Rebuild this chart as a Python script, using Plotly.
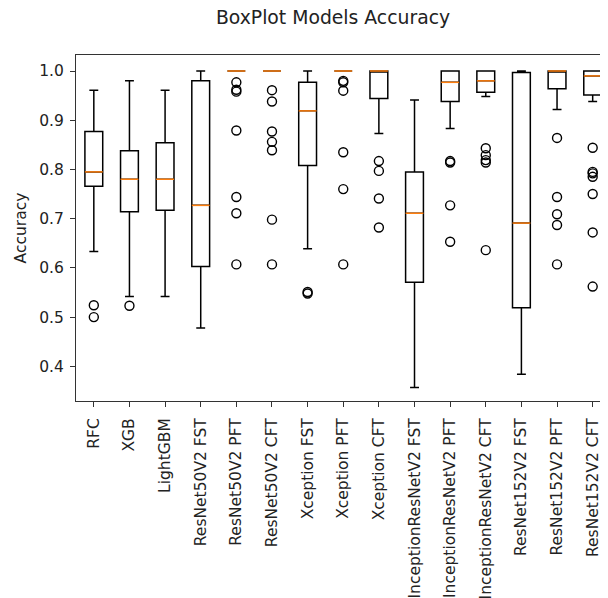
import plotly.graph_objects as go

models = ["RFC", "XGB", "LightGBM", "ResNet50V2 FST", "ResNet50V2 PFT", "ResNet50V2 CFT",
          "Xception FST", "Xception PFT", "Xception CFT",
          "InceptionResNetV2 FST", "InceptionResNetV2 PFT", "InceptionResNetV2 CFT",
          "ResNet152V2 FST", "ResNet152V2 PFT", "ResNet152V2 CFT"]

lower_whisker = [0.633, 0.542, 0.542, 0.478, 1.0, 1.0, 0.639, 1.0, 0.873, 0.357, 0.883, 0.948, 0.384, 0.922, 0.938]
q1_vals       = [0.766, 0.714, 0.717, 0.603, 1.0, 1.0, 0.808, 1.0, 0.944, 0.571, 0.938, 0.957, 0.519, 0.964, 0.951]
median_vals   = [0.795, 0.780, 0.780, 0.727, 1.0, 1.0, 0.919, 1.0, 1.0, 0.711, 0.977, 0.980, 0.691, 1.0, 0.990]
q3_vals       = [0.877, 0.838, 0.854, 0.980, 1.0, 1.0, 0.977, 1.0, 1.0, 0.795, 1.0, 1.0, 0.997, 1.0, 1.0]
upper_whisker = [0.961, 0.980, 0.961, 1.0, 1.0, 1.0, 1.0, 1.0, 1.0, 0.941, 1.0, 1.0, 1.0, 1.0, 1.0]

outliers = [
    [0.524, 0.500],
    [0.523],
    [],
    [],
    [0.977, 0.962, 0.958, 0.879, 0.744, 0.711, 0.607],
    [0.961, 0.938, 0.877, 0.856, 0.839, 0.698, 0.607],
    [0.551, 0.548],
    [0.980, 0.977, 0.960, 0.835, 0.760, 0.607],
    [0.817, 0.797, 0.741, 0.682],
    [],
    [0.817, 0.814, 0.727, 0.653],
    [0.843, 0.829, 0.819, 0.814, 0.636],
    [],
    [0.864, 0.744, 0.709, 0.687, 0.607],
    [0.844, 0.795, 0.792, 0.785, 0.750, 0.672, 0.562],
]

y_ticks = [0.4, 0.5, 0.6, 0.7, 0.8, 0.9, 1.0]

positions = list(range(1, len(models) + 1))
BOX_W = 0.5

fig = go.Figure()

fig.add_trace(go.Box(
    x=positions, q1=q1_vals, median=median_vals, q3=q3_vals,
    lowerfence=lower_whisker, upperfence=upper_whisker,
    width=BOX_W, whiskerwidth=0.5, boxpoints=False,
    line=dict(color="black", width=1.5), fillcolor="rgba(0,0,0,0)",
    showlegend=False, hoverinfo="skip",
))

mx, my = [], []
for p, m in zip(positions, median_vals):
    mx += [p - BOX_W / 2, p + BOX_W / 2, None]
    my += [m, m, None]
fig.add_trace(go.Scatter(x=mx, y=my, mode="lines", line=dict(color="#ff7f0e", width=1.5),
                         showlegend=False, hoverinfo="skip"))

ox, oy = [], []
for p, outs in zip(positions, outliers):
    ox += [p] * len(outs)
    oy += outs
fig.add_trace(go.Scatter(x=ox, y=oy, mode="markers",
                         marker=dict(symbol="circle-open", size=9, color="black", line=dict(width=1.4)),
                         showlegend=False, hoverinfo="skip"))

font = "DejaVu Sans"
# page body has an 8px default margin, so the figure is sized/offset to fit the 608x598 window
fig.update_layout(
    template="none",
    width=600, height=590,
    margin=dict(l=68, r=0, t=47, b=197, pad=0),
    paper_bgcolor="white", plot_bgcolor="white",
    font=dict(family=font, size=15.5, color="#222222"),
    title=dict(text="BoxPlot Models Accuracy", x=325 / 600, xanchor="center",
               y=1 - 9 / 590, yanchor="middle", yref="container", automargin=False,
               font=dict(family=font, size=18.8, color="#222222")),
)
fig.update_xaxes(
    range=[0.5, 15.43], tickmode="array", tickvals=positions, ticktext=models,
    tickangle=-90, showgrid=False, zeroline=False, automargin=False,
    showline=True, mirror=True, linecolor="#333333", linewidth=1.1,
    ticks="outside", ticklen=5, tickcolor="#333333", ticklabelstandoff=5,
    tickfont=dict(family=font, size=15.5, color="#222222"),
)
fig.update_yaxes(
    range=[0.3295, 1.0325], tickmode="array", tickvals=y_ticks,
    ticktext=[f"{v:.1f}" for v in y_ticks],
    showgrid=False, zeroline=False, automargin=False,
    showline=True, linecolor="#333333", linewidth=1.1,
    ticks="outside", ticklen=5, tickcolor="#333333", ticklabelstandoff=3,
    tickfont=dict(family=font, size=15.5, color="#222222"),
    title=dict(text="Accuracy", standoff=8, font=dict(family=font, size=15.5, color="#222222")),
)

fig.write_html("out.html")
